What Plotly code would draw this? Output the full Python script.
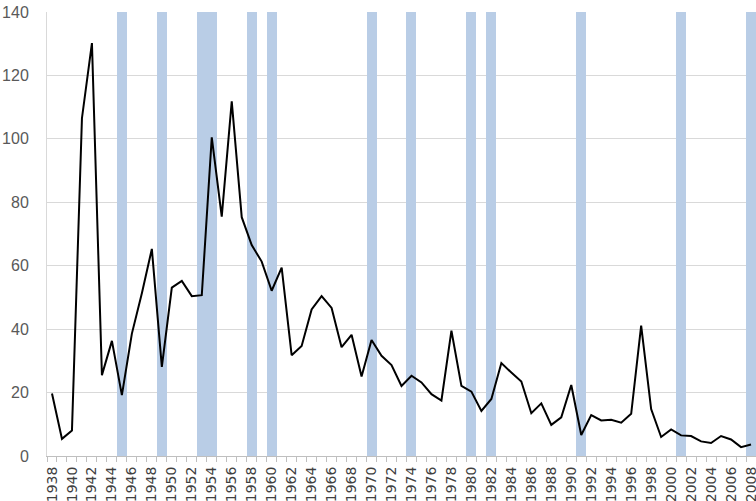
import plotly.graph_objects as go

years = list(range(1938, 2009))
values = [19.7, 5.4, 8.0, 106.5, 130.2, 25.5, 36.3, 19.2, 38.6, 51.3,
          65.3, 28.1, 53.1, 55.2, 50.4, 50.7, 100.5, 75.5, 111.8, 75.3,
          66.5, 61.3, 52.1, 59.4, 31.8, 34.7, 46.2, 50.4, 46.7, 34.3,
          38.2, 25.1, 36.6, 31.6, 28.7, 22.1, 25.3, 23.2, 19.5, 17.5,
          39.5, 22.1, 20.3, 14.2, 18.0, 29.3, 26.3, 23.5, 13.5, 16.6,
          9.8, 12.2, 22.4, 6.6, 12.9, 11.2, 11.4, 10.5, 13.3, 41.1,
          14.8, 6.0, 8.4, 6.5, 6.3, 4.6, 4.1, 6.3, 5.2, 2.8, 3.6]

recession_years = [1945, 1949, 1953, 1954, 1958, 1960, 1970, 1974,
                   1980, 1982, 1991, 2001, 2008]
recession_top = 140

tick_years = list(range(1938, 2009, 2))
y_ticks = list(range(0, 141, 20))

fig = go.Figure()

# shaded recession years, drawn as full-height columns
fig.add_trace(go.Bar(x=recession_years, y=[recession_top] * len(recession_years),
                     width=1, marker=dict(color='#b9cde6', line=dict(width=0)),
                     showlegend=False, hoverinfo='x'))

fig.add_trace(go.Scatter(x=years, y=values, mode='lines',
                         line=dict(color='black', width=2),
                         showlegend=False))

fig.update_layout(
    width=756, height=501,
    margin=dict(l=47, r=0, t=12, b=45),
    plot_bgcolor='white', paper_bgcolor='white',
    bargap=0,
)

fig.update_xaxes(
    range=[1937.5, 2008.5], automargin=False,
    tickmode='array', tickvals=tick_years, ticktext=[str(y) for y in tick_years],
    tickangle=-90, ticks='', ticklabelstandoff=4, ticklabeloverflow='allow',
    tickfont=dict(family='DejaVu Sans', size=14, color='#404040'),
    showgrid=False, zeroline=False,
    showline=True, linecolor='#bfbfbf', linewidth=1,
    minor=dict(ticks='outside', tick0=1937.5, dtick=1, ticklen=5,
               tickcolor='#bfbfbf', showgrid=False),
)

fig.update_yaxes(
    range=[0, 140], automargin=False,
    tickmode='array', tickvals=y_ticks,
    tickfont=dict(family='Liberation Sans', size=16, color='#595959'),
    showgrid=True, gridcolor='#d9d9d9', gridwidth=1,
    zeroline=False, showline=True, linecolor='#d9d9d9',
    ticks='', ticklabelstandoff=14,
)

# drop the default body margin so the figure fills the window exactly
fig.write_html("out.html", config={'displayModeBar': False},
               post_script="document.body.style.margin='0';")
